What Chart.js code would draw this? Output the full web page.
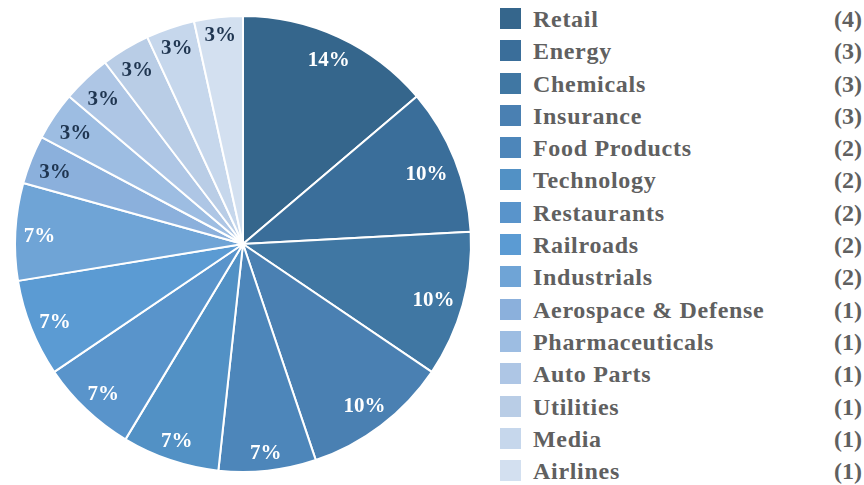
<!DOCTYPE html>
<html>
<head>
<meta charset="utf-8">
<script src="https://cdn.jsdelivr.net/npm/chart.js@4.4.0/dist/chart.umd.min.js"></script>
<style>
  body { margin:0; background:#fff; }
  #wrap { position:relative; width:864px; height:485px; }
  #pieBox { position:absolute; left:0; top:0; width:486px; height:485px; }
  #legend { position:absolute; left:500px; top:3px; width:362px; font-family:"Liberation Serif",serif; font-weight:bold; font-size:24px; letter-spacing:0.7px; color:#606060; }
  .row { position:relative; height:32.3px; line-height:32.3px; }
  .box { position:absolute; left:0; top:5px; width:21px; height:21px; }
  .name { position:absolute; left:33px; top:0; }
  .cnt { position:absolute; right:0; top:0; letter-spacing:0; }
</style>
</head>
<body>
<div id="wrap">
  <div id="pieBox"><canvas id="pie"></canvas></div>
  <div id="legend"></div>
</div>
<script>
const sectors = ["Retail","Energy","Chemicals","Insurance","Food Products","Technology","Restaurants","Railroads","Industrials","Aerospace & Defense","Pharmaceuticals","Auto Parts","Utilities","Media","Airlines"];
const counts = [4,3,3,3,2,2,2,2,2,1,1,1,1,1,1];
const colors = ["#35668c","#3a6e9a","#4077a3","#4a80b2","#4d86ba","#5291c5","#5994cb","#5b9bd3","#6fa4d6","#8bb0dc","#9dbde2","#aec6e5","#b9cde6","#c6d7ec","#d3e0f0"];
const labelColors = ["#fff","#fff","#fff","#fff","#fff","#fff","#fff","#fff","#fff","#1f3550","#1f3550","#1f3550","#1f3550","#1f3550","#1f3550"];

const total = counts.reduce((a,b)=>a+b,0);

// legend with counts on the right
const legend = document.getElementById("legend");
sectors.forEach((s,i)=>{
  const row = document.createElement("div");
  row.className="row";
  row.innerHTML = '<div class="box" style="background:'+colors[i]+'"></div><span class="name"></span><span class="cnt">('+counts[i]+')</span>';
  row.querySelector(".name").textContent = s;
  legend.appendChild(row);
});

// percentage labels, pushed out until the text box touches the rim inset
const pctLabels = {
  id:"pctLabels",
  afterDatasetsDraw(chart){
    const ctx = chart.ctx;
    const meta = chart.getDatasetMeta(0);
    ctx.save();
    ctx.font = "bold 21px 'Liberation Serif', serif";
    ctx.textAlign="center";
    ctx.textBaseline="middle";
    meta.data.forEach((arc,i)=>{
      const p = arc.getProps(["x","y","startAngle","endAngle","outerRadius"],true);
      const mid = (p.startAngle+p.endAngle)/2;
      const txt = Math.round(counts[i]/total*100)+"%";
      const w = ctx.measureText(txt).width, h = 16;
      const c = Math.cos(mid), s = Math.sin(mid);
      const r = p.outerRadius*0.965 - (Math.abs(c)*w/2 + Math.abs(s)*h/2);
      ctx.fillStyle = labelColors[i];
      ctx.fillText(txt, p.x+c*r, p.y+s*r+4*Math.abs(c));
    });
    ctx.restore();
  }
};

new Chart(document.getElementById("pie"),{
  type:"pie",
  data:{
    labels:sectors,
    datasets:[{
      data:counts,
      backgroundColor:colors,
      borderColor:"#ffffff",
      borderWidth:2
    }]
  },
  options:{
    responsive:true,
    maintainAspectRatio:false,
    animation:false,
    layout:{padding:{top:15,bottom:12,left:0,right:0}},
    plugins:{
      legend:{display:false},
      tooltip:{enabled:false}
    }
  },
  plugins:[pctLabels]
});
</script>
</body>
</html>
